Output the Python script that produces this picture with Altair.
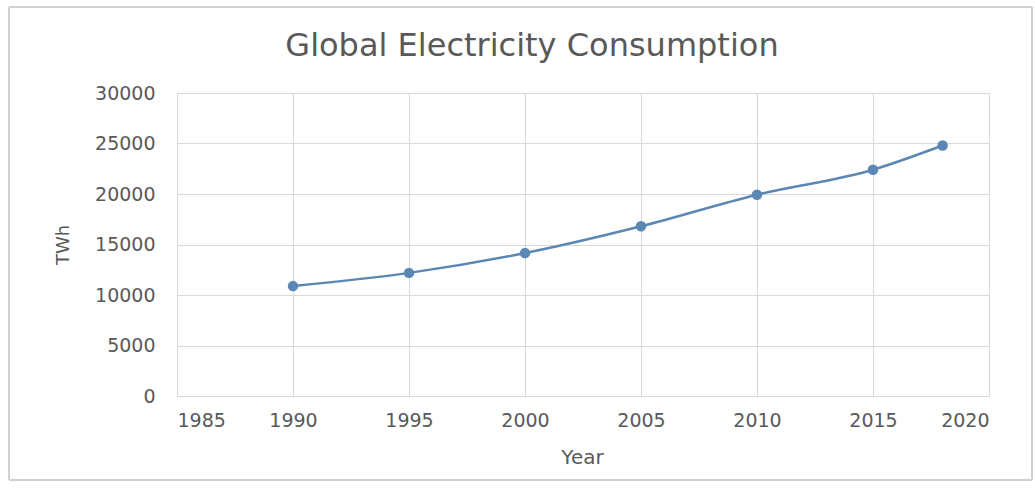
import altair as alt
import pandas as pd

years = [1990, 1995, 2000, 2005, 2010, 2015, 2018]
twh = [10880, 12190, 14150, 16800, 19930, 22400, 24800]
x_ticks = [1985, 1990, 1995, 2000, 2005, 2010, 2015, 2020]
y_ticks = [0, 5000, 10000, 15000, 20000, 25000, 30000]
title_text = ["Global Electricity Consumption"]

df = pd.DataFrame({"Year": years, "TWh": twh})
tdf = pd.DataFrame({"t": title_text})

FONT = "DejaVu Sans"
GRAY = "#595959"
COLOR = "#5a87b3"

x = alt.X("Year:Q", title="Year",
          scale=alt.Scale(domain=[1985, 2020], nice=False, zero=False),
          axis=alt.Axis(values=x_ticks, format="d", grid=True, gridColor="#d9d9d9",
                        domain=False, ticks=False, labelPadding=15, labelFontSize=19,
                        labelColor=GRAY, labelFont=FONT, titleFont=FONT, titleFontSize=20,
                        titleColor=GRAY, titleFontWeight="normal", titlePadding=17,
                        titleX=405))
y = alt.Y("TWh:Q", title="TWh",
          scale=alt.Scale(domain=[0, 30000], nice=False),
          axis=alt.Axis(values=y_ticks, format="d", grid=True, gridColor="#d9d9d9",
                        domain=False, ticks=False, labelPadding=22, labelFontSize=19,
                        labelColor=GRAY, labelFont=FONT, titleFont=FONT, titleFontSize=18,
                        titleColor=GRAY, titleFontWeight="normal", titlePadding=22))

line = alt.Chart(df).mark_line(color=COLOR, strokeWidth=2.5, interpolate="monotone").encode(x=x, y=y)
pts = alt.Chart(df).mark_circle(color=COLOR, size=110, opacity=1).encode(x=x, y=y)

frame = alt.Chart(df).mark_rect(fill=None, stroke="#d0d0d0", strokeWidth=1).encode(
    x=alt.value(-168), x2=alt.value(855), y=alt.value(-86), y2=alt.value(387))

title = alt.Chart(tdf).mark_text(font=FONT, fontSize=32, color=GRAY, align="center",
                                 baseline="alphabetic").encode(
    text="t:N", x=alt.value(355), y=alt.value(-37))

chart = alt.layer(frame, line, pts, title).properties(
    width=812, height=303,
    autosize=alt.AutoSizeParams(type="none"),
    padding={"left": 177, "top": 93, "right": 46, "bottom": 97},
).configure_view(stroke="#d9d9d9").configure(background="white")

chart.save("out.html", embed_options={"renderer": "svg", "actions": False})
